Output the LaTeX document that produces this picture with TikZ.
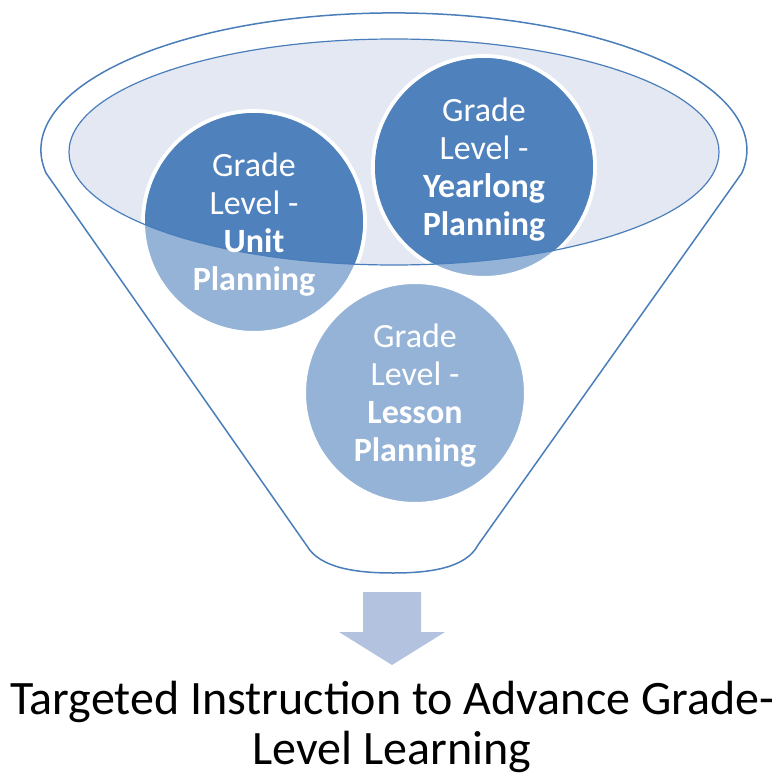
\documentclass[tikz,border=0pt]{standalone}
\usepackage{fontspec}
\setmainfont{Carlito}
\usetikzlibrary{positioning}
\definecolor{rimblue}{HTML}{4A7EBB}
\definecolor{darkfill}{HTML}{4F81BD}
\definecolor{lightfill}{HTML}{95B3D7}
\definecolor{bowlfill}{HTML}{E3E8F2}
\definecolor{arrowfill}{HTML}{B3C3DF}

\begin{document}
\begin{tikzpicture}[x=1pt, y=1pt,
  bubble/.style={circle, fill=lightfill, draw=white, line width=4pt, minimum size=222pt, inner sep=0pt},
  bubbletext/.style={text=white, align=center, font=\fontsize{34}{38}\selectfont},
  goaltext/.style={align=center, font=\fontsize{48}{50}\selectfont, inner sep=0pt}]

  \useasboundingbox (0,0) rectangle (777,-776);

  % funnel and bowl
  \draw[rimblue, line width=1.5pt, fill=white] (46,-173) arc[start angle=189.7, end angle=-9.7, x radius=353, y radius=137]
     -- (478,-545) .. controls (466,-568) and (430,-573) .. (393,-573)
     .. controls (356,-573) and (320,-568) .. (307,-546) -- cycle;
  \fill[bowlfill] (394,-152) ellipse [x radius=325, y radius=113];

  \node[bubble] (unit) at (254,-222) {};
  \node[bubble] (year) at (484,-167) {};
  \node[bubble] (lesson) at (415,-393) {};

  % darker where the bubbles sit in the bowl
  \begin{scope}
    \clip (394,-152) ellipse [x radius=325, y radius=113];
    \foreach \b in {unit,year} \fill[darkfill] (\b) circle (109);
  \end{scope}
  \draw[rimblue, line width=1.2pt] (394,-152) ellipse [x radius=325, y radius=113];

  \node[bubbletext] (unittxt) at ([yshift=-3pt]unit.center) {Grade\\Level -\\\textbf{Unit}\\\textbf{Planning}};
  \node[bubbletext] (yeartxt) at ([yshift=-3pt]year.center) {Grade\\Level -\\\textbf{Yearlong}\\\textbf{Planning}};
  \node[bubbletext] (lessontxt) at ([yshift=-3pt]lesson.center) {Grade\\Level -\\\textbf{Lesson}\\\textbf{Planning}};

  % output arrow
  \fill[arrowfill] (363,-592) -- (421,-592) -- (421,-632) -- (445,-632) -- (392,-665)
     -- (339,-632) -- (363,-632) -- cycle;

  \node[goaltext] (goal) at (392,-727) {Targeted Instruction to Advance Grade-\\Level Learning};
\end{tikzpicture}
\end{document}
